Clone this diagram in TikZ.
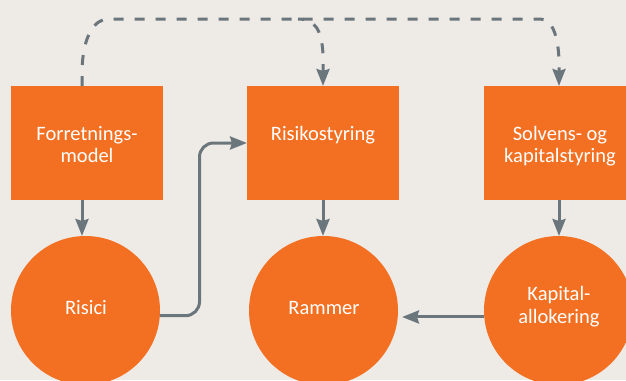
\documentclass[tikz,border=0pt]{standalone}
\usepackage{fontspec}
\setmainfont{Carlito}
\usetikzlibrary{arrows.meta,calc}
\definecolor{bg}{HTML}{EEEBE7}
\definecolor{orng}{HTML}{F37022}
\definecolor{gry}{HTML}{6A757C}
\begin{document}
\begin{tikzpicture}[x=1pt,y=-1pt,
  box/.style={fill=orng, draw=none, minimum width=152pt, minimum height=114pt, inner sep=0pt, outer sep=0pt},
  disc/.style={circle, fill=orng, draw=none, minimum size=149pt, inner sep=0pt, outer sep=0pt},
  txt/.style={text=white, font=\fontsize{20.5}{22.5}\selectfont, align=center, inner sep=0pt, anchor=base},
  arr/.style={draw=gry, line width=3pt, -{Stealth[length=17pt,width=13pt,inset=2pt]}},
  dsh/.style={arr, dash pattern=on 10pt off 11pt}]
\useasboundingbox[fill=bg] (0,0) rectangle (626,380);
\begin{scope}
\clip (0,0) rectangle (626,380);
% boxes
\node[box] (b1) at (87,143) {};
\node[box] (b2) at (323,143) {};
\node[box] (b3) at (560,143) {};
% circles
\node[disc] (c1) at (85.5,310.5) {};
\node[disc] (c2) at (323.5,310.5) {};
\node[disc] (c3) at (558.5,310.5) {};
\end{scope}
% texts (base anchor of a multi-line node = last line's baseline)
\node[txt] (t1) at (87,162.5) {Forretnings-\\model};
\node[txt] (t2) at (323,140) {Risikostyring};
\node[txt] (t3) at (560,162.5) {Solvens- og\\kapitalstyring};
\node[txt] (t4) at (86,314) {Risici};
\node[txt] (t5) at (324,314) {Rammer};
\node[txt] (t6) at (559,323) {Kapital-\\allokering};
% solid connectors
\coordinate (s1) at ([xshift=-5pt]b1.south);
\draw[arr] (s1) -- (s1 |- c1.north);
\draw[arr] (b2.south) -- (b2.south |- c2.north);
\coordinate (s3) at ([xshift=-1pt]b3.south);
\draw[arr] (s3) -- (s3 |- c3.north);
\coordinate (k) at (199.5,0);
\draw[arr, rounded corners=14pt] (c1.-4) -| (k |- b2.west) -- (b2.west);
\draw[arr] (c3.185) -- ($(c3.185 -| c2.east)+(4,0)$);
% dashed connectors
\coordinate (d1) at (s1 |- b1.north);
\coordinate (h1) at (108,19);
\coordinate (h2) at (540,19);
\coordinate (hb) at (298,19);
\draw[dsh] (d1) -- (82,70) .. controls (83,35) and (95,19) .. (h1) -- (h2)
  .. controls (552,19) and (558,35) .. (559,60) -- (s3 |- b3.north);
\draw[dsh, dash phase=4pt] (hb) .. controls (315,19) and (322,30) .. (323,55) -- (b2.north);
\end{tikzpicture}
\end{document}
